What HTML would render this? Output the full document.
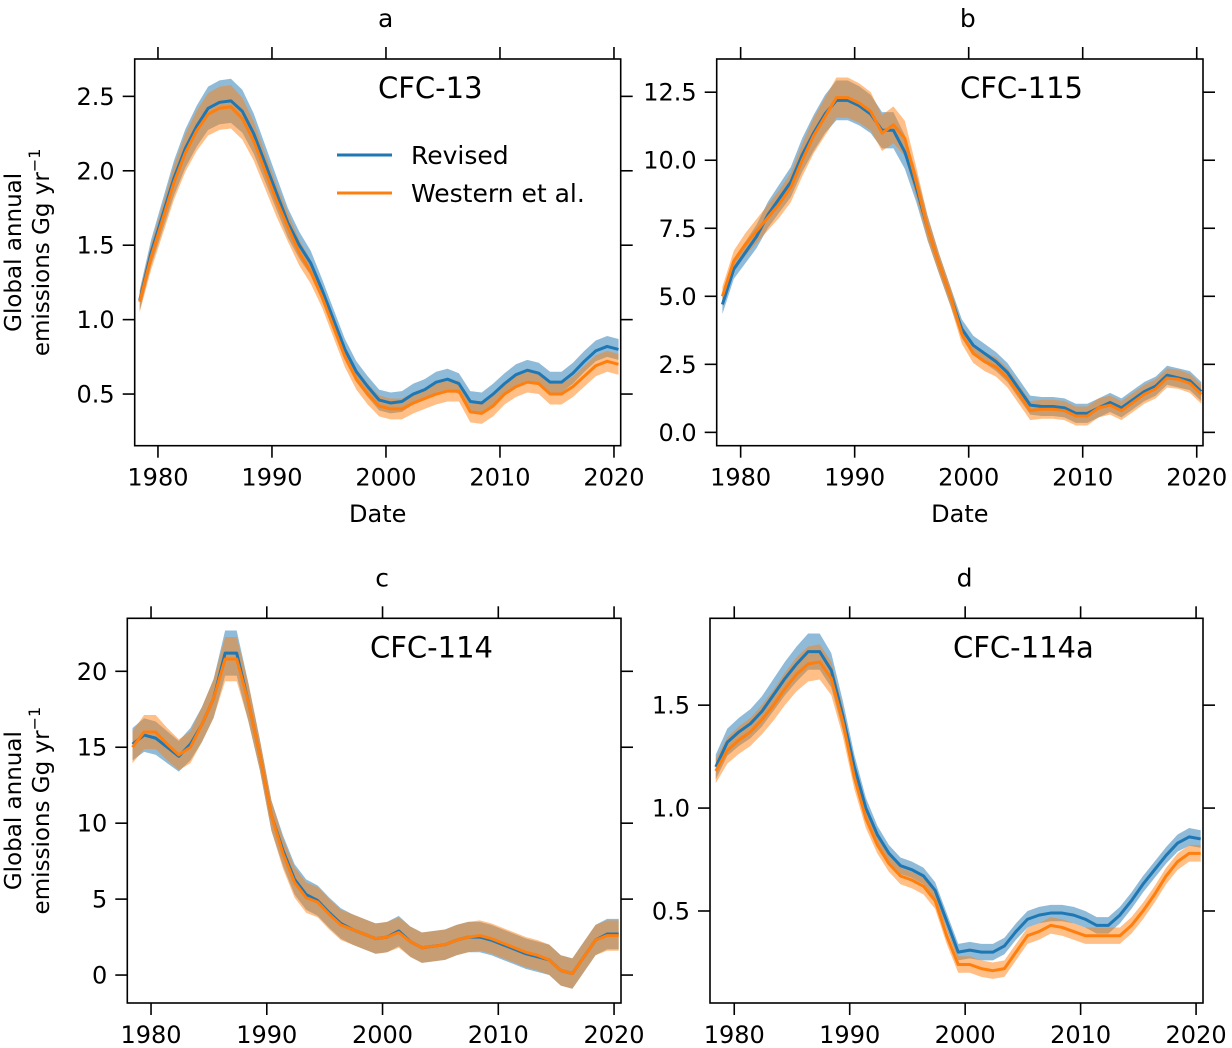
<!DOCTYPE html>
<html><head><meta charset="utf-8"><style>
body{margin:0;background:#fff;}
svg{display:block;font-family:"DejaVu Sans","Liberation Sans",sans-serif;}
</style></head><body>
<svg id="fig" width="1232" height="1048" viewBox="0 0 1232 1048"></svg>
<script>
const years=[];for(let y=1978;y<=2020;y++)years.push(y);
const aRev=[1.13,1.45,1.7,1.95,2.15,2.3,2.42,2.46,2.47,2.4,2.25,2.05,1.85,1.65,1.5,1.38,1.2,1.0,0.8,0.65,0.55,0.46,0.44,0.45,0.5,0.53,0.58,0.6,0.57,0.45,0.44,0.5,0.57,0.63,0.66,0.64,0.58,0.58,0.64,0.72,0.79,0.82,0.8];
const aWes=[1.12,1.42,1.67,1.92,2.12,2.27,2.38,2.42,2.43,2.35,2.2,2.0,1.8,1.62,1.45,1.32,1.15,0.95,0.75,0.6,0.5,0.42,0.4,0.4,0.44,0.47,0.5,0.52,0.52,0.38,0.37,0.42,0.5,0.55,0.58,0.57,0.5,0.5,0.55,0.62,0.69,0.72,0.7];
const bRev=[4.7,6.0,6.6,7.2,8.0,8.6,9.2,10.2,11.0,11.7,12.2,12.2,12.0,11.7,11.1,11.1,10.3,9.0,7.5,6.2,5.0,3.8,3.2,2.9,2.6,2.2,1.6,1.0,0.95,0.95,0.9,0.7,0.7,0.9,1.1,0.9,1.2,1.5,1.7,2.1,2.0,1.9,1.5];
const bWes=[5.0,6.3,6.9,7.4,7.9,8.4,9.0,10.0,10.9,11.6,12.3,12.3,12.1,11.8,11.0,11.3,10.8,9.2,7.5,6.2,5.0,3.6,2.9,2.6,2.4,2.0,1.4,0.8,0.85,0.85,0.8,0.6,0.6,0.9,1.0,0.8,1.1,1.4,1.6,2.0,1.95,1.8,1.4];
const cRev=[15.2,15.8,15.6,15.0,14.4,15.2,16.5,18.2,21.2,21.2,18.0,14.5,10.5,8.2,6.3,5.3,4.9,4.1,3.4,3.0,2.7,2.4,2.5,2.9,2.2,1.8,1.9,2.0,2.3,2.5,2.5,2.3,2.0,1.7,1.4,1.2,1.0,0.3,0.1,1.2,2.3,2.7,2.7];
const cWes=[15.0,16.0,16.0,15.2,14.5,15.0,16.5,18.2,20.8,20.8,18.0,14.5,10.5,8.0,6.1,5.1,4.8,4.0,3.3,3.0,2.7,2.4,2.5,2.8,2.2,1.8,1.9,2.0,2.3,2.5,2.6,2.4,2.1,1.8,1.5,1.3,1.0,0.3,0.1,1.2,2.3,2.6,2.6];
const dRev=[1.2,1.32,1.37,1.41,1.47,1.55,1.63,1.7,1.76,1.76,1.67,1.45,1.2,1.0,0.87,0.78,0.72,0.7,0.67,0.6,0.45,0.3,0.31,0.3,0.3,0.33,0.4,0.46,0.48,0.49,0.49,0.48,0.46,0.43,0.43,0.48,0.55,0.63,0.7,0.77,0.83,0.86,0.85];
const dWes=[1.18,1.28,1.33,1.37,1.43,1.5,1.58,1.65,1.7,1.71,1.63,1.42,1.15,0.95,0.82,0.73,0.67,0.65,0.62,0.55,0.38,0.24,0.24,0.22,0.21,0.22,0.3,0.38,0.4,0.43,0.42,0.4,0.38,0.38,0.38,0.38,0.43,0.5,0.58,0.67,0.74,0.78,0.78];
const xTicks=[1980,1990,2000,2010,2020];
const aTicks=[0.5,1.0,1.5,2.0,2.5];
const bTicks=[0.0,2.5,5.0,7.5,10.0,12.5];
const cTicks=[0,5,10,15,20];
const dTicks=[0.5,1.0,1.5];
const bandRel={a:0.06,b:0.06,c:0.07,d:0.05};
const bandMin={a:0.07,b:0.35,c:1.0,d:0.04};

const NS='http://www.w3.org/2000/svg';
const svg=document.getElementById('fig');
function mk(t,at,parent){const e=document.createElementNS(NS,t);for(const k in at)e.setAttribute(k,at[k]);(parent||svg).appendChild(e);return e;}
const panels=[
 {id:'a',L:134.7,R:620.7,T:59,B:445.7,x0:1977.96,x1:2020.59,y0:0.153,y1:2.751,rev:aRev,wes:aWes,ticks:aTicks,fmt:1,name:'CFC-13',lab:378,xlabel:true,ylabel:true},
 {id:'b',L:716.7,R:1203,T:59,B:445.7,x0:1977.9,x1:2020.55,y0:-0.49,y1:13.72,rev:bRev,wes:bWes,ticks:bTicks,fmt:1,name:'CFC-115',lab:960,xlabel:true,ylabel:false},
 {id:'c',L:127.3,R:621,T:618.3,B:1003,x0:1977.95,x1:2020.6,y0:-1.84,y1:23.49,rev:cRev,wes:cWes,ticks:cTicks,fmt:0,name:'CFC-114',lab:370,xlabel:false,ylabel:true},
 {id:'d',L:710,R:1203,T:618.3,B:1003,x0:1977.9,x1:2020.6,y0:0.053,y1:1.922,rev:dRev,wes:dWes,ticks:dTicks,fmt:1,name:'CFC-114a',lab:953,xlabel:false,ylabel:false}
];
panels.forEach(p=>{
 const g=mk('g',{});
 
 
 const X=v=>p.L+(v-p.x0)/(p.x1-p.x0)*(p.R-p.L);
 const Y=v=>p.B-(v-p.y0)/(p.y1-p.y0)*(p.B-p.T);
 const cid='clip'+p.id;
 const cp=mk('clipPath',{id:cid},g);mk('rect',{x:p.L,y:p.T,width:p.R-p.L,height:p.B-p.T},cp);
 const pg=mk('g',{'clip-path':'url(#'+cid+')'},g);
 [[p.rev,'#1f77b4','revised'],[p.wes,'#ff7f0e','western']].forEach(([s,c,n])=>{
  const up=s.map((v,i)=>[X(years[i]+0.4),Y(v+Math.max(bandMin[p.id],v*bandRel[p.id]))]);
  const lo=s.map((v,i)=>[X(years[i]+0.4),Y(v-Math.max(bandMin[p.id],v*bandRel[p.id]))]).reverse();
  const band=mk('path',{d:'M'+up.concat(lo).map(q=>q.join(',')).join('L')+'Z',fill:c,'fill-opacity':0.5},pg);
  
  
 });
 [[p.rev,'#1f77b4','revised'],[p.wes,'#ff7f0e','western']].forEach(([s,c,n])=>{
  const ln=mk('polyline',{points:s.map((v,i)=>X(years[i]+0.4)+','+Y(v)).join(' '),fill:'none',stroke:c,'stroke-width':3,'stroke-linejoin':'round'},pg);
  
  
 });
 const fr=mk('rect',{x:p.L,y:p.T,width:p.R-p.L,height:p.B-p.T,fill:'none',stroke:'#000','stroke-width':1.6},g);
 
 
 xTicks.forEach(t=>{
  const x=X(t);
  mk('line',{x1:x,x2:x,y1:p.B,y2:p.B+12,stroke:'#000','stroke-width':1.6},g);
  mk('line',{x1:x,x2:x,y1:p.T,y2:p.T-12,stroke:'#000','stroke-width':1.6},g);
  const tx=mk('text',{x:x,y:p.B+40,'font-size':24,'text-anchor':'middle'},g);tx.textContent=t;
  
  
 });
 p.ticks.forEach(t=>{
  const y=Y(t);
  mk('line',{x1:p.L,x2:p.L-12,y1:y,y2:y,stroke:'#000','stroke-width':1.6},g);
  mk('line',{x1:p.R,x2:p.R+12,y1:y,y2:y,stroke:'#000','stroke-width':1.6},g);
  const tx=mk('text',{x:p.L-20,y:y+8.5,'font-size':24,'text-anchor':'end'},g);tx.textContent=t.toFixed(p.fmt);
  
  
 });
 const tt=mk('text',{x:(p.L+p.R)/2+8,y:p.T-32,'font-size':25,'text-anchor':'middle'},g);tt.textContent=p.id;
 
 
 const an=mk('text',{x:p.lab,y:p.T+39,'font-size':29},g);an.textContent=p.name;
 
 
 if(p.xlabel){const xl=mk('text',{x:(p.L+p.R)/2,y:522,'font-size':24,'text-anchor':'middle'},g);xl.textContent='Date';
  
  }
 if(p.ylabel){const cy=(p.T+p.B)/2;
  const yl=mk('text',{transform:'translate(21,'+cy+') rotate(-90)','font-size':23,'text-anchor':'middle'},g);
  
  
  const t1=mk('tspan',{x:0,y:0},yl);t1.textContent='Global annual';
  const t2=mk('tspan',{x:0,y:28},yl);t2.textContent='emissions Gg yr';
  const t3=mk('tspan',{dy:-9,'font-size':16},yl);t3.textContent='−1';}
});
const lg=mk('g',{});


mk('line',{x1:337,x2:392,y1:155,y2:155,stroke:'#1f77b4','stroke-width':3},lg);
mk('line',{x1:337,x2:392,y1:193,y2:193,stroke:'#ff7f0e','stroke-width':3},lg);
const l1=mk('text',{x:411,y:164,'font-size':25},lg);l1.textContent='Revised';


const l2=mk('text',{x:411,y:202,'font-size':25},lg);l2.textContent='Western et al.';


</script>
</body></html>
